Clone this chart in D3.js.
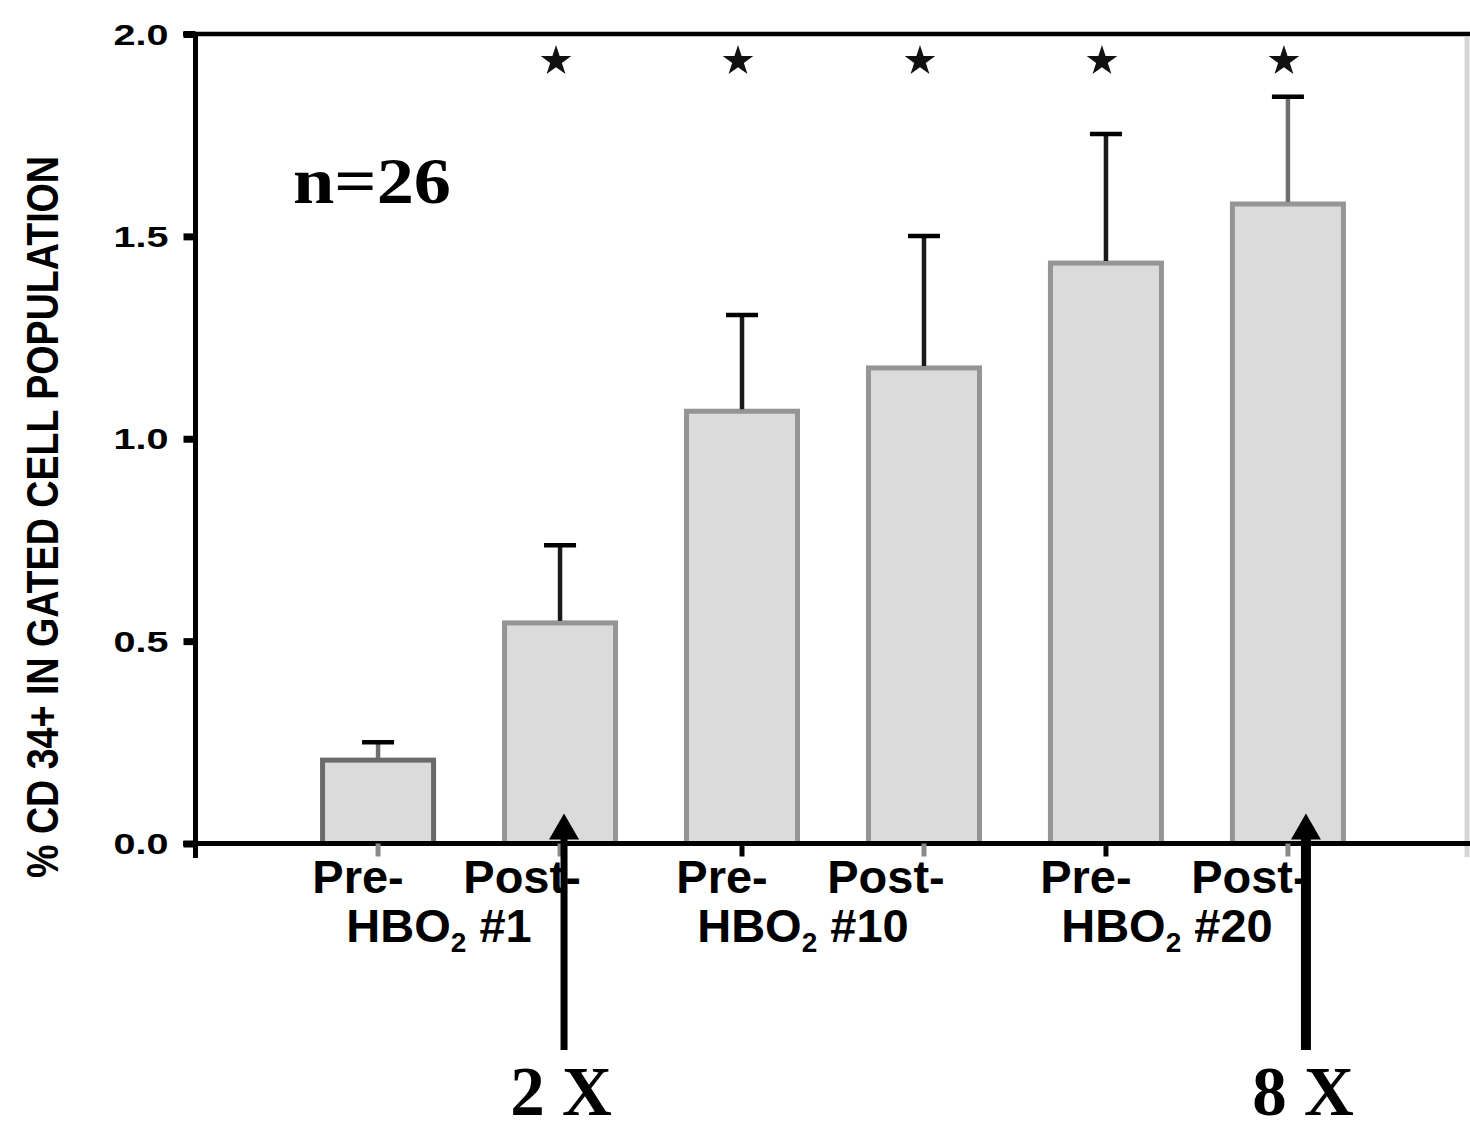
<!DOCTYPE html>
<html>
<head>
<meta charset="utf-8">
<script src="https://cdn.jsdelivr.net/npm/d3@7"></script>
<style>
  html, body { margin: 0; padding: 0; background: #fff; }
  svg { display: block; }
  text { font-family: "Liberation Sans", Arial, sans-serif; fill: #000; }
  .serif { font-family: "Liberation Serif", "Times New Roman", serif; font-weight: bold; }
</style>
</head>
<body>
<div id="chart"></div>
<script>
// values
const categories = ["Pre-1", "Post-1", "Pre-10", "Post-10", "Pre-20", "Post-20"];
const phaseLabels = ["Pre-", "Post-", "Pre-", "Post-", "Pre-", "Post-"];
const meanValues = [0.206, 0.545, 1.068, 1.175, 1.434, 1.580];
const errorValues = [0.044, 0.192, 0.238, 0.326, 0.319, 0.265];
const significant = [false, true, true, true, true, true];
const sessionLabels = ["#1", "#10", "#20"];
const yTicks = [0.0, 0.5, 1.0, 1.5, 2.0];
const foldCategories = ["Post-1", "Post-20"];
const foldLabels = ["2 X", "8 X"];
const sampleLabel = "n=26";
const yLabel = "% CD 34+ IN GATED CELL POPULATION";

const width = 1470;
const height = 1131;

let svg = d3.select("#chart").append("svg")
  .attr("width", width)
  .attr("height", height);

let x = d3.scaleBand()
  .domain(categories)
  .range([197, 1469])
  .paddingInner(0.39)
  .paddingOuter(0.69);

let y = d3.scaleLinear()
  .domain([0, 2])
  .range([843.5, 34]);

let cx = function(c) { return x(c) + x.bandwidth() / 2; };

// frame: top border + faint right edge
svg.append("line")
  .attr("x1", 183).attr("x2", width)
  .attr("y1", y(2)).attr("y2", y(2))
  .attr("stroke", "#000").attr("stroke-width", 4.5);

svg.append("line")
  .attr("x1", 1467).attr("x2", 1467)
  .attr("y1", y(2) + 3).attr("y2", 857)
  .attr("stroke", "#d6d6d6").attr("stroke-width", 5);

// bars
svg.selectAll(".bar")
  .data(categories)
  .enter().append("rect")
  .attr("class", "bar")
  .attr("x", function(d) { return x(d); })
  .attr("y", function(d, i) { return y(meanValues[i]); })
  .attr("width", x.bandwidth())
  .attr("height", function(d, i) { return y(0) - y(meanValues[i]); })
  .attr("fill", "#dbdbdb")
  .attr("stroke", function(d, i) { return i === 0 ? "#6a6a6a" : "#959595"; })
  .attr("stroke-width", 5);

// error bars (upper only)
let err = svg.selectAll(".err")
  .data(categories)
  .enter().append("g")
  .attr("class", "err");

err.append("line")
  .attr("x1", cx).attr("x2", cx)
  .attr("y1", function(d, i) { return y(meanValues[i]) - 2; })
  .attr("y2", function(d, i) { return y(meanValues[i] + errorValues[i]); })
  .attr("stroke", function(d, i) { return i === 0 || i === 5 ? "#6f6f6f" : "#1a1a1a"; })
  .attr("stroke-width", 4.5);

err.append("line")
  .attr("x1", function(d) { return cx(d) - 16; })
  .attr("x2", function(d) { return cx(d) + 16; })
  .attr("y1", function(d, i) { return y(meanValues[i] + errorValues[i]); })
  .attr("y2", function(d, i) { return y(meanValues[i] + errorValues[i]); })
  .attr("stroke", "#000").attr("stroke-width", 4.5);

// significance stars
svg.selectAll(".star")
  .data(categories.filter(function(d, i) { return significant[i]; }))
  .enter().append("path")
  .attr("class", "star")
  .attr("d", d3.symbol().type(d3.symbolStar).size(290))
  .attr("transform", function(d) { return "translate(" + (cx(d) - 4) + ",61)"; })
  .attr("fill", "#111");

// x axis line and ticks under each bar
svg.append("line")
  .attr("x1", 183).attr("x2", width)
  .attr("y1", y(0)).attr("y2", y(0))
  .attr("stroke", "#000").attr("stroke-width", 5);

svg.selectAll(".xtick")
  .data(categories)
  .enter().append("line")
  .attr("class", "xtick")
  .attr("x1", cx).attr("x2", cx)
  .attr("y1", y(0)).attr("y2", y(0) + 13)
  .attr("stroke", function(d, i) { return i === 2 || i === 4 ? "#000" : "#8a8a8a"; })
  .attr("stroke-width", 5);

// y axis
let y_axis = d3.axisLeft(y)
  .tickValues(yTicks)
  .tickSize(12)
  .tickPadding(15)
  .tickFormat(d3.format(".1f"));

let gy = svg.append("g")
  .attr("transform", "translate(195.5,0)")
  .call(y_axis);

gy.select(".domain").remove();
gy.append("line")
  .attr("x1", 0).attr("x2", 0)
  .attr("y1", y(2) - 2).attr("y2", 858)
  .attr("stroke", "#000").attr("stroke-width", 5);

gy.selectAll(".tick line")
  .attr("stroke", "#000").attr("stroke-width", 7);

gy.selectAll(".tick text")
  .attr("fill", "#1a1a1a")
  .style("font-family", "'Liberation Sans', Arial, sans-serif")
  .style("font-weight", "bold")
  .style("font-size", "30px")
  .attr("textLength", 55)
  .attr("lengthAdjust", "spacingAndGlyphs")
  .attr("dy", "0.34em");

// y label
svg.append("text")
  .attr("transform", "translate(58,517) rotate(-90)")
  .attr("text-anchor", "middle")
  .style("font-weight", "bold")
  .style("font-size", "45px")
  .attr("textLength", 722)
  .attr("lengthAdjust", "spacingAndGlyphs")
  .text(yLabel);

// category labels
svg.selectAll(".phase")
  .data(categories)
  .enter().append("text")
  .attr("class", "phase")
  .attr("x", function(d, i) { return cx(d) - (i % 2 === 0 ? 20 : 38); })
  .attr("y", 893)
  .attr("text-anchor", "middle")
  .style("font-weight", "bold")
  .style("font-size", "47px")
  .text(function(d, i) { return phaseLabels[i]; });

let session = svg.selectAll(".session")
  .data(sessionLabels)
  .enter().append("text")
  .attr("class", "session")
  .attr("x", function(d, i) { return (cx(categories[2 * i]) + cx(categories[2 * i + 1])) / 2 - 30; })
  .attr("y", 942)
  .attr("text-anchor", "middle")
  .style("font-weight", "bold")
  .style("font-size", "47px");

session.append("tspan").text("HBO");
session.append("tspan").attr("dy", 10).style("font-size", "28px").text("2");
session.append("tspan").attr("dy", -10).text(function(d) { return " " + d; });

// sample size
svg.append("text")
  .attr("class", "serif")
  .attr("x", 293)
  .attr("y", 203)
  .style("font-size", "66px")
  .attr("textLength", 158)
  .attr("lengthAdjust", "spacingAndGlyphs")
  .text(sampleLabel);

// fold-change arrows
const arrowShift = [4, 18];
foldCategories.forEach(function(c, i) {
  let ax = cx(c) + arrowShift[i];
  let tip = y(0) - 30;
  svg.append("line")
    .attr("x1", ax).attr("x2", ax)
    .attr("y1", 1050).attr("y2", tip + 20)
    .attr("stroke", "#000").attr("stroke-width", i === 0 ? 7 : 10);
  svg.append("path")
    .attr("d", "M" + ax + "," + tip + "L" + (ax + 15) + "," + (tip + 26) + "L" + (ax - 15) + "," + (tip + 26) + "Z")
    .attr("fill", "#000");
  svg.append("text")
    .attr("class", "serif")
    .attr("x", ax - 3)
    .attr("y", 1115)
    .attr("text-anchor", "middle")
    .style("font-size", "69px")
    .text(foldLabels[i]);
});
</script>
</body>
</html>
